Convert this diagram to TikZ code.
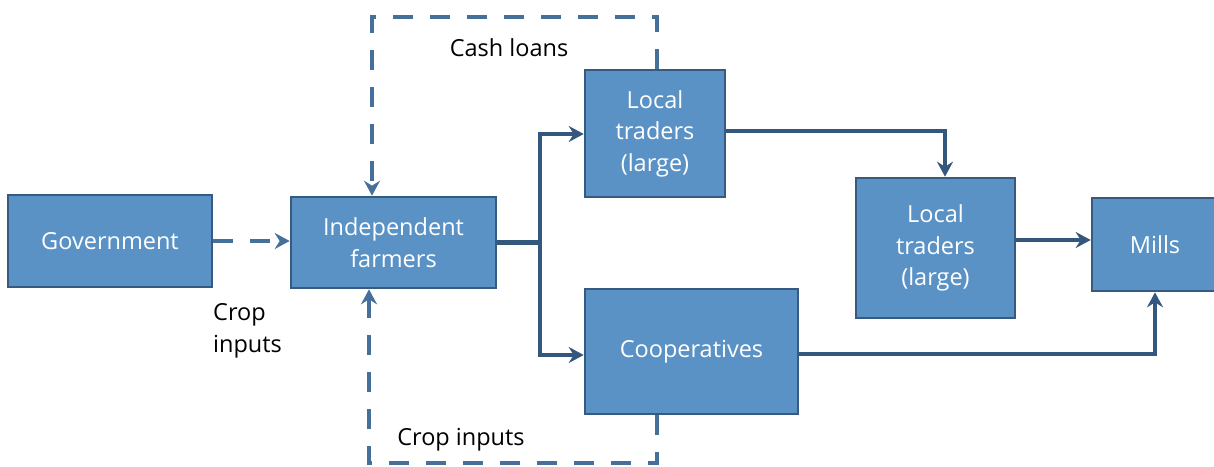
\documentclass[tikz,border=0pt]{standalone}
\usepackage{fontspec}
\setmainfont{Open Sans}
\usetikzlibrary{arrows.meta}
\definecolor{boxfill}{RGB}{91,146,198}
\definecolor{boxdraw}{RGB}{54,90,128}
\definecolor{linec}{RGB}{52,88,125}
\definecolor{dashc}{RGB}{70,112,155}
\begin{document}
\begin{tikzpicture}[x=1pt,y=-1pt,
  box/.style={draw=boxdraw,line width=2.6pt,fill=boxfill,text=white,inner sep=0pt,align=center,
    font=\fontsize{23.5}{31.5}\selectfont},
  lbl/.style={text=black,inner sep=0pt,align=left,font=\fontsize{23.5}{31.5}\selectfont},
  flow/.style={draw=linec,line width=4.5pt,-{Stealth[length=15pt,width=16pt,inset=5pt]}},
  dflow/.style={draw=dashc,line width=4.5pt,dash pattern=on 20pt off 17pt,-{Stealth[length=15pt,width=16pt,inset=5pt]}}]
\useasboundingbox (0,0) rectangle (1214,466);
\node[box,minimum width=204pt,minimum height=92pt] (gov) at (110,241) {Government};
\node[box,minimum width=205pt,minimum height=91pt] (farm) at (393.5,242.5) {Independent\\farmers};
\node[box,minimum width=140pt,minimum height=127pt] (lt1) at (655,133.5) {Local\\traders\\(large)};
\node[box,minimum width=213pt,minimum height=125pt] (coop) at (691.5,351.5) {Cooperatives};
\node[box,minimum width=159pt,minimum height=140pt] (lt2) at (935.5,248) {Local\\traders\\(large)};
\node[box,minimum width=126pt,minimum height=93pt] (mills) at (1155,244.5) {Mills};
\node[lbl,anchor=west] (cropl) at (213,331) {Crop\\inputs};
\node[lbl] (cash) at (509,48) {Cash loans};
\node[lbl] (cropb) at (461,440) {Crop inputs};
% flows
\draw[dflow] (gov.east) -- (farm.west |- gov.east);
\coordinate (br) at (540,242.5);
\draw[draw=linec,line width=4.5pt] (farm.east |- br) -- (br);
\draw[flow] (br) |- (lt1.west |- 0,134);
\draw[flow] (br) |- (coop.west |- 0,355);
\draw[flow] (lt1.east |- 0,131) -| ([xshift=9.5]lt2.north);
\draw[flow] (lt2.east |- 0,240) -- (mills.west |- 0,240);
\draw[flow] (coop.east |- 0,354) -| (mills.south);
% dashed loops
\coordinate (ctop) at (657,17);
\draw[dflow] (lt1.north -| ctop) -- (ctop) -| ([xshift=-21.5]farm.north);
\coordinate (cbot) at (657,463);
\draw[dflow] (coop.south -| cbot) -- (cbot) -| ([xshift=-24.5]farm.south);
\end{tikzpicture}
\end{document}
